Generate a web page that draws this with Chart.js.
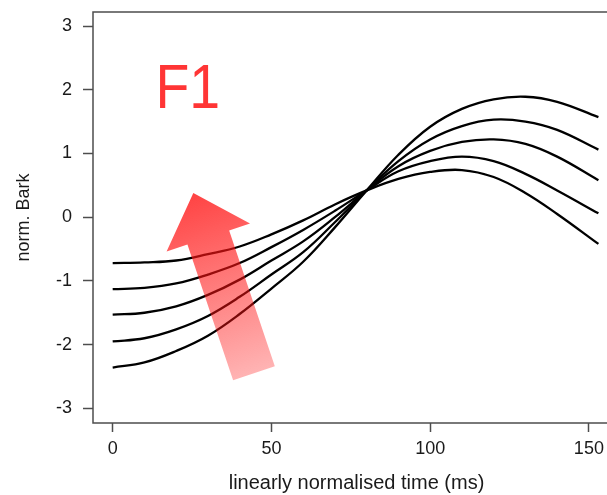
<!DOCTYPE html>
<html>
<head>
<meta charset="utf-8">
<script src="https://cdn.jsdelivr.net/npm/chart.js@4.4.1/dist/chart.umd.min.js"></script>
<style>
  html, body { margin: 0; padding: 0; background: #fff; overflow: hidden; }
  #wrap { width: 620px; height: 495px; }
</style>
</head>
<body>
<div id="wrap"><canvas id="f1Chart" width="620" height="495"></canvas></div>
<script>
// time axis (ms, linearly normalised)
const TIME = [0, 10, 20, 30, 40, 50, 60, 70, 80, 90, 100, 110, 120, 130, 140, 153];

// F1 trajectories in normalised Bark, lowest onset F1 last
const TRACK_1 = [-0.72, -0.71, -0.68, -0.58, -0.46, -0.27, -0.05, 0.20, 0.42, 0.60, 0.71, 0.74, 0.63, 0.38, 0.05, -0.42];
const TRACK_2 = [-1.13, -1.11, -1.04, -0.90, -0.72, -0.47, -0.20, 0.10, 0.42, 0.72, 0.88, 0.95, 0.88, 0.68, 0.42, 0.06];
const TRACK_3 = [-1.53, -1.50, -1.40, -1.22, -0.98, -0.68, -0.38, 0.00, 0.42, 0.80, 1.04, 1.18, 1.22, 1.15, 0.95, 0.58];
const TRACK_4 = [-1.95, -1.90, -1.76, -1.55, -1.25, -0.90, -0.55, -0.08, 0.42, 0.88, 1.22, 1.43, 1.53, 1.50, 1.37, 1.06];
const TRACK_5 = [-2.36, -2.28, -2.10, -1.86, -1.52, -1.12, -0.70, -0.16, 0.42, 0.98, 1.42, 1.70, 1.85, 1.89, 1.81, 1.57];

const X_TICKS = [0, 50, 100, 150];
const Y_TICKS = [-3, -2, -1, 0, 1, 2, 3];

const FONT = "'Liberation Sans', Arial, sans-serif";
const AXIS_GREY = '#4d4d4d';
const TEXT_COL = '#1a1a1a';

const toPoints = vals => vals.map((v, i) => ({ x: TIME[i], y: v }));

// frame, big label and the direction arrow
const decorations = {
    id: 'decorations',
    afterDatasetsDraw(chart) {
        const { ctx, chartArea: a, scales: { x, y } } = chart;
        ctx.save();

        // box round the plot
        ctx.strokeStyle = AXIS_GREY;
        ctx.lineWidth = 1.5;
        ctx.strokeRect(a.left, a.top, a.right - a.left, a.bottom - a.top);

        // label, set a little condensed
        ctx.save();
        ctx.translate(x.getPixelForValue(14.3), y.getPixelForValue(1.71));
        ctx.scale(0.88, 1);
        ctx.fillStyle = '#ff3535';
        ctx.font = '63px ' + FONT;
        ctx.textBaseline = 'alphabetic';
        ctx.textAlign = 'left';
        ctx.fillText('F1', -3, 0);
        ctx.restore();

        // arrow pointing up the F1 continuum
        const tip = { x: x.getPixelForValue(25.4), y: y.getPixelForValue(0.38) };
        const tail = { x: x.getPixelForValue(44.5), y: y.getPixelForValue(-2.45) };
        const dx = tip.x - tail.x, dy = tip.y - tail.y;
        const len = Math.hypot(dx, dy);
        const ux = dx / len, uy = dy / len;
        const nx = -uy, ny = ux;
        const shaftHalf = 22, headHalf = 44, headLen = 47;
        const neck = { x: tip.x - ux * headLen, y: tip.y - uy * headLen };

        const grad = ctx.createLinearGradient(tip.x, tip.y, tail.x, tail.y);
        grad.addColorStop(0, 'rgba(255, 20, 20, 0.8)');
        grad.addColorStop(1, 'rgba(255, 20, 20, 0.32)');
        ctx.fillStyle = grad;
        ctx.beginPath();
        ctx.moveTo(tail.x + nx * shaftHalf, tail.y + ny * shaftHalf);
        ctx.lineTo(neck.x + nx * shaftHalf, neck.y + ny * shaftHalf);
        ctx.lineTo(neck.x + nx * headHalf, neck.y + ny * headHalf);
        ctx.lineTo(tip.x, tip.y);
        ctx.lineTo(neck.x - nx * headHalf, neck.y - ny * headHalf);
        ctx.lineTo(neck.x - nx * shaftHalf, neck.y - ny * shaftHalf);
        ctx.lineTo(tail.x - nx * shaftHalf, tail.y - ny * shaftHalf);
        ctx.closePath();
        ctx.fill();

        ctx.restore();
    }
};

const lineSet = vals => ({
    data: toPoints(vals),
    borderColor: '#000',
    borderWidth: 2.3,
    pointRadius: 0,
    fill: false,
    tension: 0.4
});

new Chart(document.getElementById('f1Chart').getContext('2d'), {
    type: 'line',
    data: {
        datasets: [TRACK_1, TRACK_2, TRACK_3, TRACK_4, TRACK_5].map(lineSet)
    },
    options: {
        responsive: false,
        animation: false,
        layout: { padding: { top: 12, left: 0, right: 0, bottom: 0 } },
        plugins: {
            legend: { display: false },
            tooltip: { enabled: false }
        },
        scales: {
            x: {
                type: 'linear',
                min: -6.2,
                max: 159.8,
                afterBuildTicks: s => { s.ticks = X_TICKS.map(v => ({ value: v })); },
                afterFit: s => { s.height = 72; s.paddingLeft = 0; s.paddingRight = 0; },
                border: { display: false },
                grid: {
                    drawOnChartArea: false,
                    drawTicks: true,
                    tickLength: 9,
                    tickColor: AXIS_GREY,
                    tickWidth: 1.5
                },
                ticks: {
                    color: TEXT_COL,
                    font: { family: FONT, size: 18 },
                    padding: 6,
                    maxRotation: 0,
                    callback: v => String(v)
                },
                title: {
                    display: true,
                    text: 'linearly normalised time (ms)',
                    color: TEXT_COL,
                    font: { family: FONT, size: 20 },
                    padding: { top: 0, bottom: 0 }
                }
            },
            y: {
                min: -3.23,
                max: 3.22,
                afterBuildTicks: s => { s.ticks = Y_TICKS.map(v => ({ value: v })); },
                afterFit: s => { s.width = 93; s.paddingTop = 0; s.paddingBottom = 0; },
                border: { display: false },
                grid: {
                    drawOnChartArea: false,
                    drawTicks: true,
                    tickLength: 10,
                    tickColor: AXIS_GREY,
                    tickWidth: 1.5
                },
                ticks: {
                    color: TEXT_COL,
                    font: { family: FONT, size: 18 },
                    padding: 11,
                    callback: v => String(v)
                },
                title: {
                    display: true,
                    text: 'norm. Bark',
                    color: TEXT_COL,
                    font: { family: FONT, size: 18 },
                    padding: { top: 13, bottom: 0 }
                }
            }
        }
    },
    plugins: [decorations]
});
</script>
</body>
</html>
